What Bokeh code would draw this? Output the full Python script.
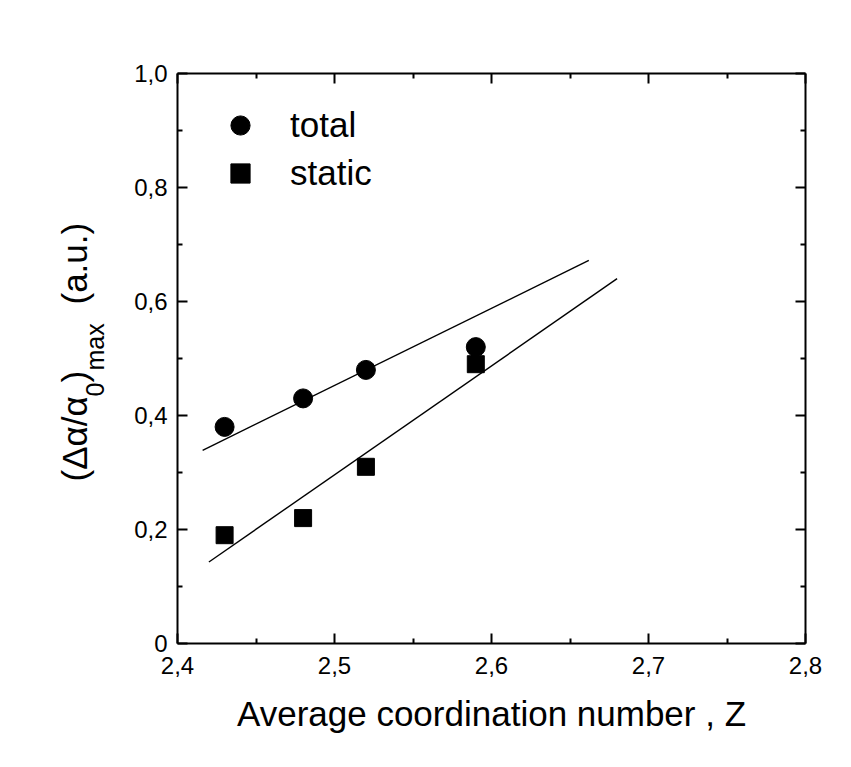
from bokeh.plotting import figure
from bokeh.layouts import row
from bokeh.models import (Range1d, FixedTicker, LinearAxis, Legend, LegendItem,
                          CustomJSTickFormatter)
from bokeh.core.properties import value
from bokeh.embed import file_html
from bokeh.resources import INLINE

# ---- data ----
z_total = [2.43, 2.48, 2.52, 2.59]
y_total = [0.38, 0.43, 0.48, 0.52]
z_static = [2.43, 2.48, 2.52, 2.59]
y_static = [0.19, 0.22, 0.31, 0.49]
fit_total_z = [2.416, 2.662]
fit_total_y = [0.339, 0.672]
fit_static_z = [2.42, 2.68]
fit_static_y = [0.143, 0.640]

x_ticks = [2.4, 2.5, 2.6, 2.7, 2.8]
x_tick_labels = ["2,4", "2,5", "2,6", "2,7", "2,8"]
x_minor = [2.45, 2.55, 2.65, 2.75]
y_ticks = [0, 0.2, 0.4, 0.6, 0.8, 1.0]
y_tick_labels = ["0", "0,2", "0,4", "0,6", "0,8", "1,0"]
y_minor = [0.1, 0.3, 0.5, 0.7, 0.9]

x_title = "Average coordination number , Z"
y_title_parts = ["(\u0394\u03b1/\u03b1", "0", ")", "max", "(a.u.)"]

FONT = "Liberation Sans"
W, H = 851, 767
LAB_W = 120
B_TOP, B_BOTTOM = 73, 124          # borders around the plotting frame

# ---- narrow figure holding the rotated y title (with subscripts) ----
pl = figure(width=LAB_W, height=H, output_backend="svg", toolbar_location=None,
            x_range=Range1d(0, LAB_W), y_range=Range1d(B_BOTTOM, H - B_TOP),
            x_axis_location=None, y_axis_location=None,
            min_border_left=0, min_border_right=0,
            min_border_top=B_TOP, min_border_bottom=B_BOTTOM,
            background_fill_color="white", border_fill_color="white")
pl.outline_line_color = None
pl.grid.visible = False

t_start = [481, 396, 382, 370, 304]
t_base = [74, 94, 74, 94, 74]
t_size = ["35px", "25px", "35px", "25px", "35px"]
for txt, py, px, sz in zip(y_title_parts, t_start, t_base, t_size):
    pl.text(x=[px], y=[H - py], text=[txt], angle=1.5707963,
            text_font=value(FONT), text_font_size=value(sz),
            text_color="black", text_align="left",
            text_baseline="alphabetic")

# ---- main figure ----
p = figure(width=W - LAB_W, height=H, output_backend="svg",
           toolbar_location=None,
           x_range=Range1d(2.4, 2.8), y_range=Range1d(0, 1.0),
           min_border_left=177 - LAB_W, min_border_right=46,
           min_border_top=B_TOP, min_border_bottom=B_BOTTOM,
           background_fill_color="white", border_fill_color="white")
p.outline_line_color = None
p.grid.visible = False


def style_axis(ax, ticks, minor, labels=None, standoff=10):
    ax.ticker = FixedTicker(ticks=ticks, minor_ticks=minor)
    ax.axis_line_width = 2
    ax.axis_line_color = "black"
    ax.major_tick_in = 10
    ax.major_tick_out = 0
    ax.minor_tick_in = 5
    ax.minor_tick_out = 0
    ax.major_tick_line_width = 2
    ax.minor_tick_line_width = 2
    ax.major_tick_line_color = "black"
    ax.minor_tick_line_color = "black"
    ax.major_label_text_font = FONT
    ax.major_label_text_font_size = "24px"
    ax.major_label_text_color = "black"
    ax.major_label_standoff = standoff
    if labels is not None:
        ax.major_label_overrides = dict(zip(ticks, labels))
    else:
        ax.formatter = CustomJSTickFormatter(code="return ''")


style_axis(p.xaxis[0], x_ticks, x_minor, x_tick_labels, standoff=13)
style_axis(p.yaxis[0], y_ticks, y_minor, y_tick_labels, standoff=10)

p.xaxis[0].axis_label = x_title
p.xaxis[0].axis_label_text_font = FONT
p.xaxis[0].axis_label_text_font_size = "35px"
p.xaxis[0].axis_label_text_font_style = "normal"
p.xaxis[0].axis_label_text_color = "black"
p.xaxis[0].axis_label_standoff = 17

top_ax = LinearAxis()
style_axis(top_ax, x_ticks, x_minor)
p.add_layout(top_ax, "above")
right_ax = LinearAxis()
style_axis(right_ax, y_ticks, y_minor)
p.add_layout(right_ax, "right")

# ---- fit lines ----
p.line(fit_total_z, fit_total_y, line_color="black", line_width=1.4)
p.line(fit_static_z, fit_static_y, line_color="black", line_width=1.4)

# ---- points ----
r_total = p.scatter(z_total, y_total, marker="circle", size=19,
                    fill_color="black", line_color="black")
r_static = p.scatter(z_static, y_static, marker="square", size=17,
                     fill_color="black", line_color="black")

legend = Legend(items=[LegendItem(label="total", renderers=[r_total]),
                       LegendItem(label="static", renderers=[r_static])],
                location=(39, 446), glyph_width=48, glyph_height=48,
                label_height=48, label_standoff=26, spacing=0, padding=0,
                margin=0, border_line_color=None, background_fill_alpha=0,
                label_text_font=FONT, label_text_font_size="35px",
                label_text_color="black")
p.add_layout(legend)

layout = row(pl, p, spacing=0)
open("out.html", "w").write(file_html(layout, INLINE))
